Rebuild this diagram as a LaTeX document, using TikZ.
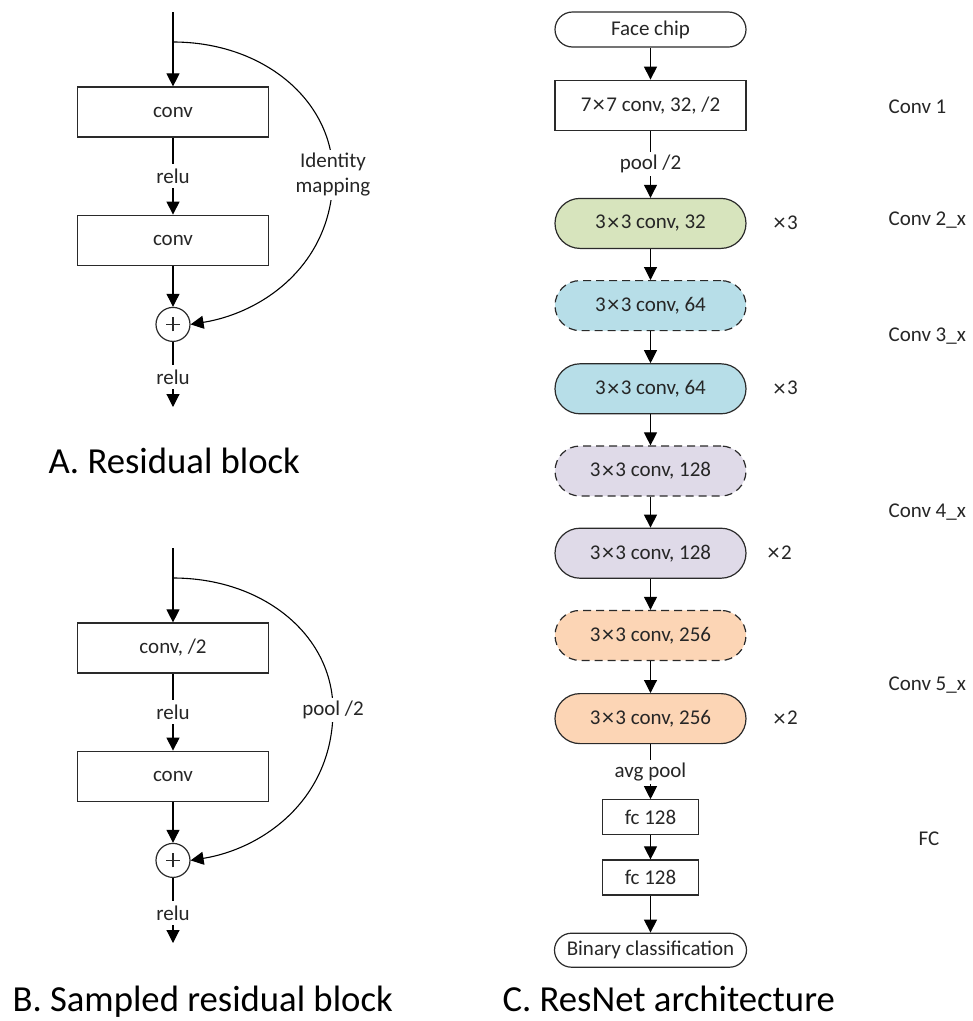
\documentclass[tikz,border=0pt]{standalone}
\usepackage{fontspec}
\setmainfont{Carlito}
\usetikzlibrary{arrows.meta,positioning}

\definecolor{stagegreen}{HTML}{D7E4BD}
\definecolor{stageblue}{HTML}{B7DEE8}
\definecolor{stagepurple}{HTML}{DFDAE8}
\definecolor{stageorange}{HTML}{FCD5B5}
\definecolor{inkgray}{HTML}{2A2A2A}

\newcommand{\lblfont}{\fontsize{21}{25}\selectfont}
\newcommand{\ttlfont}{\fontsize{36.7}{40}\selectfont}
\newcommand{\mul}{\hspace{1.5pt}{\fontsize{24}{25}\selectfont\raisebox{-1.5pt}{×}}\hspace{1.5pt}}

\tikzset{
  convbox/.style={draw=inkgray, line width=1.2pt, minimum width=191pt, minimum height=50pt,
    inner sep=0pt, font=\lblfont, text=black!85},
  pillbox/.style={convbox, rounded corners=25pt},
  dashbox/.style={pillbox, dash pattern=on 8pt off 5pt},
  endbox/.style={convbox, minimum height=35pt, rounded corners=17.5pt},
  fcbox/.style={convbox, minimum width=96pt, minimum height=35pt},
  plusnode/.style={circle, draw=inkgray, line width=1.2pt, minimum size=34pt, inner sep=0pt,
    path picture={\draw[line width=1.4pt]
      ([xshift=-7pt]path picture bounding box.center) -- ([xshift=7pt]path picture bounding box.center)
      ([yshift=-7pt]path picture bounding box.center) -- ([yshift=7pt]path picture bounding box.center);}},
  lbl/.style={font=\lblfont, text=black!85, fill=white, inner sep=5pt},
  note/.style={font=\lblfont, text=black!85, inner sep=0pt},
  ttl/.style={font=\ttlfont, inner sep=0pt, anchor=base west}
}

\begin{document}
\begin{tikzpicture}[x=1pt, y=-1pt, line width=1.1pt, node distance=31pt,
    >={Triangle[width=13pt,length=13pt]}]
  \useasboundingbox (0,0) rectangle (973,1021);

  % A. residual block
  \coordinate (inA) at (173,12);
  \coordinate (splitA) at (173,42);
  \coordinate (bendA) at (333,175);
  \node[convbox] (convA1) at (173,112) {conv};
  \node[convbox, below=77pt of convA1] (convA2) {conv};
  \node[plusnode, below=41pt of convA2] (addA) {};
  \coordinate[below=65pt of addA] (outA);

  \draw[->] (inA) -- (convA1);
  \draw[->] (convA1) -- node[lbl] {relu} (convA2);
  \draw[->] (convA2) -- (addA);
  \draw[->] (addA) -- node[lbl, pos=0.54] {relu} (outA);
  \draw[->] (splitA) .. controls +(90,0) and +(0,-75) .. (bendA)
    node[lbl, align=center, inner sep=3pt] {Identity\\mapping}
    .. controls +(0,88) and +(74,-12) .. (addA.east);
  \node[ttl] (titleA) at (48,473) {A. Residual block};

  % B. sampled residual block
  \coordinate (inB) at (173,548);
  \coordinate (splitB) at (173,578);
  \coordinate (bendB) at (333,710);
  \node[convbox] (convB1) at (173,648) {conv, /2};
  \node[convbox, below=77pt of convB1] (convB2) {conv};
  \node[plusnode, below=41pt of convB2] (addB) {};
  \coordinate[below=65pt of addB] (outB);

  \draw[->] (inB) -- (convB1);
  \draw[->] (convB1) -- node[lbl] {relu} (convB2);
  \draw[->] (convB2) -- (addB);
  \draw[->] (addB) -- node[lbl, pos=0.54] {relu} (outB);
  \draw[->] (splitB) .. controls +(90,0) and +(0,-75) .. (bendB)
    node[lbl, inner sep=3pt] {pool /2}
    .. controls +(0,88) and +(74,-12) .. (addB.east);
  \node[ttl] (titleB) at (12,1011) {B. Sampled residual block};

  % C. ResNet architecture
  \node[endbox] (face) at (650.5,29.5) {Face chip};
  \node[convbox, below=32pt of face] (conv1) {7\mul 7 conv, 32, /2};
  \node[pillbox, fill=stagegreen, below=67pt of conv1] (conv2) {3\mul 3 conv, 32};
  \node[dashbox, fill=stageblue, below=of conv2] (conv3a) {3\mul 3 conv, 64};
  \node[pillbox, fill=stageblue, below=32pt of conv3a] (conv3b) {3\mul 3 conv, 64};
  \node[dashbox, fill=stagepurple, below=of conv3b] (conv4a) {3\mul 3 conv, 128};
  \node[pillbox, fill=stagepurple, below=of conv4a] (conv4b) {3\mul 3 conv, 128};
  \node[dashbox, fill=stageorange, below=of conv4b] (conv5a) {3\mul 3 conv, 256};
  \node[pillbox, fill=stageorange, below=32pt of conv5a] (conv5b) {3\mul 3 conv, 256};
  \node[fcbox, below=55pt of conv5b] (fc1) {fc 128};
  \node[fcbox, below=24pt of fc1] (fc2) {fc 128};
  \node[endbox, minimum width=192pt, minimum height=34pt, rounded corners=17pt,
    below=37pt of fc2] (cls) {Binary classification};

  \draw[->] (face) -- (conv1);
  \draw[->] (conv1) -- node[lbl, inner sep=3pt] {pool /2} (conv2);
  \foreach \a/\b in {conv2/conv3a, conv3a/conv3b, conv3b/conv4a, conv4a/conv4b,
      conv4b/conv5a, conv5a/conv5b, fc1/fc2, fc2/cls}
    \draw[->] (\a) -- (\b);
  \draw[->] (conv5b) -- node[lbl, inner sep=3pt] {avg pool} (fc1);

  \node[note, right=25pt of conv2] (rep2) {\mul 3};
  \node[note, right=25pt of conv3b] (rep3) {\mul 3};
  \node[note, right=19pt of conv4b] (rep4) {\mul 2};
  \node[note, right=25pt of conv5b] (rep5) {\mul 2};

  \node[note, anchor=west] (stage1) at (888,107) {Conv 1};
  \node[note, anchor=west] (stage2) at (888,220) {Conv 2\_x};
  \node[note, anchor=west] (stage3) at (888,336) {Conv 3\_x};
  \node[note, anchor=west] (stage4) at (888,512) {Conv 4\_x};
  \node[note, anchor=west] (stage5) at (888,685) {Conv 5\_x};
  \node[note, anchor=west] (stagefc) at (918,839) {FC};

  \node[ttl] (titleC) at (502,1011) {C. ResNet architecture};
\end{tikzpicture}
\end{document}
